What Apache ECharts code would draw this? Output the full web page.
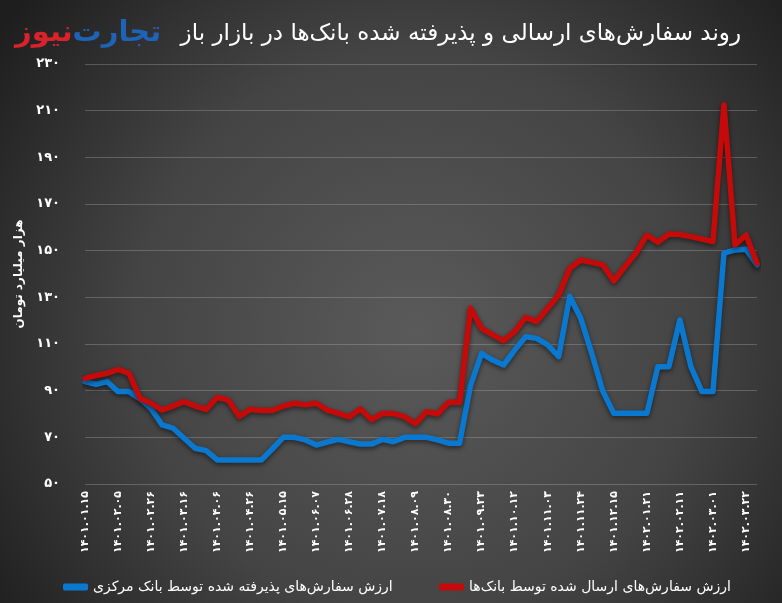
<!DOCTYPE html>
<html>
<head>
<meta charset="utf-8">
<script src="https://cdn.jsdelivr.net/npm/echarts@6/dist/echarts.min.js"></script>
<style>
html,body{margin:0;padding:0;background:#2a2a2a;}
#chart{width:782px;height:603px;}
</style>
</head>
<body>
<div id="chart"></div>
<script>
var categories = [
  '1401.01.15','1401.01.22','1401.01.29','1401.02.05','1401.02.12','1401.02.19','1401.02.26','1401.03.02','1401.03.09','1401.03.16',
  '1401.03.23','1401.03.30','1401.04.06','1401.04.13','1401.04.19','1401.04.26','1401.05.02','1401.05.09','1401.05.15','1401.05.23',
  '1401.05.30','1401.06.07','1401.06.14','1401.06.21','1401.06.28','1401.07.04','1401.07.11','1401.07.18','1401.07.25','1401.08.02',
  '1401.08.09','1401.08.16','1401.08.23','1401.08.30','1401.09.07','1401.09.14','1401.09.23','1401.09.28','1401.10.05','1401.10.12',
  '1401.10.19','1401.10.26','1401.11.03','1401.11.10','1401.11.17','1401.11.24','1401.12.01','1401.12.08','1401.12.15','1401.12.22',
  '1402.01.14','1402.01.21','1402.01.28','1402.02.04','1402.02.11','1402.02.18','1402.02.25','1402.03.01','1402.03.08','1402.03.15',
  '1402.03.22','1402.03.29'
];
var sentByBanks = [
  95.3, 96.5, 97.4, 99.1, 97.4, 86.7, 84.6, 81.7, 83.4, 85.3,
  83.4, 82.0, 87.1, 86.0, 79.0, 82.0, 81.5, 81.5, 83.4, 84.6,
  83.9, 84.6, 81.7, 80.3, 78.8, 82.2, 77.6, 80.2, 80.2, 78.9,
  75.9, 81.0, 80.0, 85.0, 85.0, 125.3, 116.7, 113.9, 111.4, 115.3,
  121.4, 119.6, 125.3, 131.0, 142.4, 146.0, 145.0, 143.9, 137.0, 143.1,
  148.9, 156.7, 153.6, 157.1, 156.9, 156.0, 155.0, 153.9, 212.5, 152.4,
  156.7, 144.6
];
var acceptedByCB = [
  93.9, 92.7, 93.9, 89.6, 89.6, 86.5, 82.4, 75.3, 73.9, 69.6,
  65.3, 64.3, 60.3, 60.3, 60.3, 60.3, 60.3, 65.0, 70.0, 70.0,
  68.9, 66.7, 68.0, 69.1, 68.1, 67.1, 67.1, 69.1, 68.1, 70.0,
  70.0, 70.0, 68.9, 67.5, 67.5, 92.4, 106.0, 103.1, 101.0, 107.4,
  113.1, 112.4, 109.6, 104.6, 130.5, 121.0, 106.0, 89.8, 80.3, 80.3,
  80.3, 80.3, 100.3, 100.3, 120.3, 100.3, 89.6, 89.6, 148.9, 150.3,
  150.6, 143.9
];
var titleText = 'روند سفارش‌های ارسالی و پذیرفته شده بانک‌ها در بازار باز';
var yAxisName = 'هزار میلیارد تومان';
var nameSent = 'ارزش سفارش‌های ارسال شده توسط بانک‌ها';
var nameAccepted = 'ارزش سفارش‌های پذیرفته شده توسط بانک مرکزی';
var logoBlue = 'تجارت';
var logoRed = 'نیوز';

function fa(s){
  var d = '۰۱۲۳۴۵۶۷۸۹';
  return String(s).replace(/[0-9]/g, function(c){ return d[+c]; });
}

var FONT = '"DejaVu Sans", "Noto Sans", sans-serif';
var chart = echarts.init(document.getElementById('chart'), null, {renderer:'canvas'});
chart.setOption({
  backgroundColor: {
    type: 'radial', x: 0.53, y: 0.55, r: 0.85,
    colorStops: [{offset:0, color:'#5a5a5a'},{offset:0.55,color:'#444444'},{offset:1, color:'#1e1e1e'}]
  },
  animation: false,
  textStyle: {fontFamily: FONT},
  title: [{
    text: titleText,
    right: 36, top: 18,
    textStyle: {color:'#ffffff', fontSize: 23, fontWeight: 'normal', fontFamily: FONT}
  },{
    text: '{r|' + logoRed + '}{b|' + logoBlue + '}',
    left: 10, top: 14,
    textStyle: {
      rich: {
        r: {color:'#d9222a', fontSize: 29, fontWeight:'bold', fontFamily: FONT},
        b: {color:'#1e63b8', fontSize: 29, fontWeight:'bold', fontFamily: FONT}
      }
    }
  }],
  legend: [{
    data: [nameAccepted],
    left: 58, top: 575,
    icon: 'roundRect', itemWidth: 25, itemHeight: 7, itemGap: 4,
    textStyle: {color:'#ffffff', fontSize: 14, fontFamily: FONT}
  },{
    data: [nameSent],
    left: 434, top: 575,
    icon: 'roundRect', itemWidth: 25, itemHeight: 7, itemGap: 4,
    textStyle: {color:'#ffffff', fontSize: 14, fontFamily: FONT}
  }],
  grid: {left: 85, right: 25, top: 64, bottom: 119, containLabel: false},
  xAxis: {
    type: 'category',
    data: categories,
    boundaryGap: false,
    axisLine: {show: false},
    axisTick: {show: false},
    axisLabel: {
      interval: 2, rotate: 90, color:'#ffffff', fontSize: 11, fontWeight:'bold',
      margin: 7, fontFamily: FONT,
      formatter: function(v){ return fa(v); }
    },
    splitLine: {show: false}
  },
  yAxis: {
    type: 'value',
    min: 50, max: 230, interval: 20,
    name: yAxisName,
    nameLocation: 'middle',
    nameRotate: 90,
    nameGap: 58,
    nameTextStyle: {color:'#ffffff', fontSize: 12, fontWeight:'bold', fontFamily: FONT},
    axisLine: {show: false},
    axisTick: {show: false},
    axisLabel: {
      color:'#ffffff', fontSize: 13, fontWeight:'bold', margin: 25, fontFamily: FONT,
      formatter: function(v){ return fa(v); }
    },
    splitLine: {lineStyle: {color:'rgba(200,200,200,0.28)', width: 1}}
  },
  series: [{
    name: nameAccepted,
    type: 'line',
    data: acceptedByCB,
    symbol: 'none',
    color: '#0a78cf',
    lineStyle: {width: 5.5, color:'#0a78cf', cap:'round', join:'round',
      shadowColor:'rgba(0,0,0,0.55)', shadowBlur: 5, shadowOffsetY: 2}
  },{
    name: nameSent,
    type: 'line',
    data: sentByBanks,
    symbol: 'none',
    color: '#c50a0a',
    lineStyle: {width: 5.5, color:'#c50a0a', cap:'round', join:'round',
      shadowColor:'rgba(0,0,0,0.55)', shadowBlur: 5, shadowOffsetY: 2}
  }]
});
</script>
</body>
</html>
